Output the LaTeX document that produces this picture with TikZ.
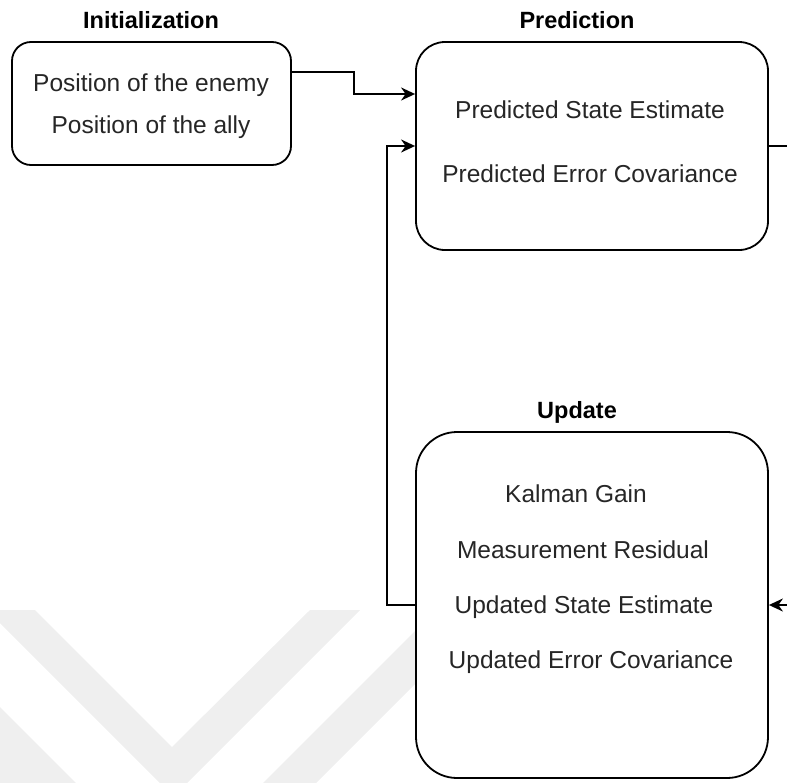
\documentclass[tikz,border=0pt]{standalone}
\usepackage{fontspec}
\setmainfont{Liberation Sans}
\usetikzlibrary{arrows.meta}
\definecolor{wm}{RGB}{239,239,239}
\definecolor{txt}{RGB}{38,38,38}
\begin{document}
\begin{tikzpicture}[x=1pt,y=-1pt,
  box/.style={draw=black, line width=1.8pt, fill=white, inner sep=0pt},
  txtline/.style={font=\fontsize{24.5}{29}\selectfont, text=txt, anchor=base, inner sep=0pt},
  ttl/.style={font=\bfseries\fontsize{23.5}{28}\selectfont, text=black, anchor=base, inner sep=0pt},
  conn/.style={draw=black, line width=1.8pt},
  arr/.style={conn, -{Stealth[length=14pt,width=13pt,inset=4.5pt]}},
  wmark/.style={fill=wm, draw=none}]

\useasboundingbox (0,0) rectangle (787,782);
\clip (0,0) rectangle (787,782);

% watermark
\path[wmark] (-13,610) -- (35,610) -- (172,747) -- (310,610) -- (360,610) -- (173.5,796.5) -- cycle;
\path[wmark] (-30,677) -- (105,812) -- (-30,812) -- cycle;
\path[wmark] (436,610) -- (489,610) -- (290,809) -- (237,809) -- cycle;

% boxes
\node[box, rounded corners=19pt, minimum width=279pt, minimum height=123pt] (init) at (151.5,103.5) {};
\node[box, rounded corners=29pt, minimum width=352pt, minimum height=208pt] (pred) at (592,146) {};
\node[box, rounded corners=41pt, minimum width=352pt, minimum height=346pt] (upd) at (592,605) {};

% titles
\node[ttl] (tinit) at (151,28) {Initialization};
\node[ttl] (tpred) at (577,28) {Prediction};
\node[ttl] (tupd) at (577,418) {Update};

% texts
\node[txtline] (i1) at (151,91) {Position of the enemy};
\node[txtline] (i2) at (151,133) {Position of the ally};
\node[txtline] (p1) at (590,118) {Predicted State Estimate};
\node[txtline] (p2) at (590,182) {Predicted Error Covariance};
\node[txtline] (u1) at (576,502) {Kalman Gain};
\node[txtline] (u2) at (583,558) {Measurement Residual};
\node[txtline] (u3) at (584,613) {Updated State Estimate};
\node[txtline] (u4) at (591,668) {Updated Error Covariance};

% connectors
\draw[arr] ([yshift=31.5pt]init.east) -- ([yshift=31.5pt,xshift=62pt]init.east) |- ([yshift=52pt]pred.west);
\draw[arr] (upd.west) -- ++(-28,0) |- (pred.west);
\draw[arr] (pred.east) -- ++(40,0) |- (upd.east);
\end{tikzpicture}
\end{document}
